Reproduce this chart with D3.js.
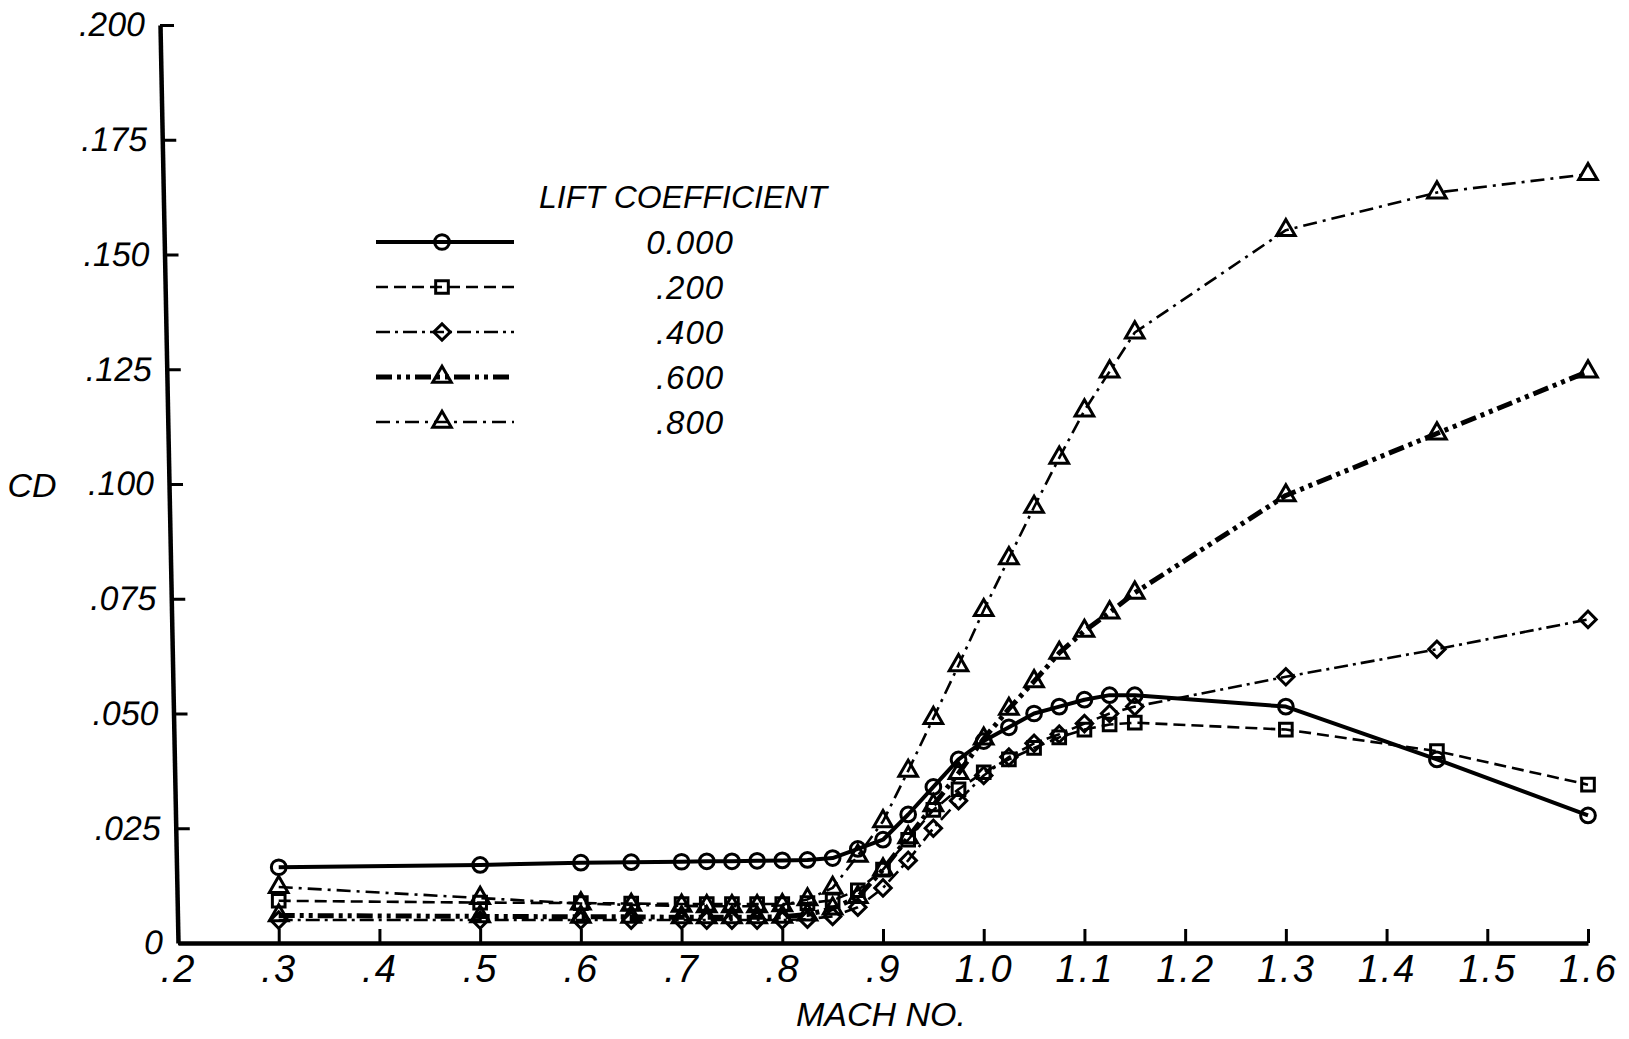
<!DOCTYPE html>
<html>
<head>
<meta charset="utf-8">
<script src="https://cdn.jsdelivr.net/npm/d3@7"></script>
<style>
  body { margin: 0; background: #fff; }
  svg { display: block; background: #fff; }
  text { font-family: "Liberation Sans", Arial, sans-serif; font-style: italic; fill: #000; }
</style>
</head>
<body>
<svg id="chart" width="1629" height="1039"></svg>
<script>
// Mach numbers where drag was computed
const mach = [0.3, 0.5, 0.6, 0.65, 0.7, 0.725, 0.75, 0.775, 0.8, 0.825, 0.85, 0.875, 0.9, 0.925,
              0.95, 0.975, 1.0, 1.025, 1.05, 1.075, 1.1, 1.125, 1.15, 1.3, 1.45, 1.6];

// CD for each lift coefficient
const cd000 = [0.0165, 0.0170, 0.0175, 0.0176, 0.0177, 0.0178, 0.0178, 0.0179, 0.0180, 0.0181, 0.0185, 0.0205, 0.0225,
               0.0280, 0.0340, 0.0400, 0.0440, 0.0470, 0.0500, 0.0515, 0.0530, 0.0540, 0.0540, 0.0515, 0.0400, 0.0278];
const cd200 = [0.0092, 0.0088, 0.0087, 0.0086, 0.0085, 0.0085, 0.0085, 0.0085, 0.0085, 0.0087, 0.0093, 0.0115, 0.0160,
               0.0225, 0.0290, 0.0335, 0.0372, 0.0400, 0.0425, 0.0448, 0.0465, 0.0476, 0.0480, 0.0465, 0.0418, 0.0345];
const cd400 = [0.0050, 0.0050, 0.0050, 0.0050, 0.0050, 0.0050, 0.0050, 0.0050, 0.0050, 0.0052, 0.0058, 0.0078, 0.0120,
               0.0180, 0.0250, 0.0310, 0.0365, 0.0405, 0.0435, 0.0455, 0.0478, 0.0500, 0.0515, 0.0580, 0.0640, 0.0705];
const cd600 = [0.0060, 0.0058, 0.0057, 0.0057, 0.0056, 0.0056, 0.0056, 0.0056, 0.0057, 0.0062, 0.0075, 0.0100, 0.0160,
               0.0230, 0.0300, 0.0370, 0.0445, 0.0510, 0.0570, 0.0632, 0.0680, 0.0720, 0.0763, 0.0975, 0.1110, 0.1245];
const cd800 = [0.0122, 0.0098, 0.0086, 0.0083, 0.0081, 0.0080, 0.0080, 0.0080, 0.0082, 0.0095, 0.0120, 0.0190, 0.0265,
               0.0375, 0.0490, 0.0605, 0.0725, 0.0838, 0.0950, 0.1057, 0.1160, 0.1245, 0.1330, 0.1553, 0.1635, 0.1675];

const liftLabels = ['0.000', '.200', '.400', '.600', '.800'];

const xTicks = [0.2, 0.3, 0.4, 0.5, 0.6, 0.7, 0.8, 0.9, 1.0, 1.1, 1.2, 1.3, 1.4, 1.5, 1.6];
const xTickLabels = ['.2', '.3', '.4', '.5', '.6', '.7', '.8', '.9', '1.0', '1.1', '1.2', '1.3', '1.4', '1.5', '1.6'];
const yTicks = [0, 0.025, 0.05, 0.075, 0.1, 0.125, 0.15, 0.175, 0.2];
const yTickLabels = ['0', '.025', '.050', '.075', '.100', '.125', '.150', '.175', '.200'];

const svg = d3.select('#chart');

const x = d3.scaleLinear().domain([0.2, 1.6]).range([178, 1588]);
const y = d3.scaleLinear().domain([0, 0.2]).range([943, 25]);

// the scanned y axis leans a little: 178 at the bottom, 160 at the top
const lean = 18 / 918;
const leanDeg = Math.atan(lean) * 180 / Math.PI;

// X axis, ticks point inward
const xAxis = svg.append('g')
    .attr('transform', `translate(0,${y(0)})`)
    .call(d3.axisBottom(x)
        .tickValues(xTicks)
        .tickFormat((d, i) => xTickLabels[i])
        .tickSizeInner(-14)
        .tickSizeOuter(0)
        .tickPadding(12));

// Y axis
const yAxis = svg.append('g')
    .attr('transform', `translate(${x(0.2) - lean * y(0)},0) skewX(${leanDeg})`)
    .call(d3.axisLeft(y)
        .tickValues(yTicks)
        .tickFormat((d, i) => yTickLabels[i])
        .tickSizeInner(-14)
        .tickSizeOuter(0)
        .tickPadding(15));

[xAxis, yAxis].forEach(g => {
    g.select('.domain').attr('stroke', '#000').attr('stroke-width', 4.5);
    g.selectAll('.tick line').attr('stroke', '#000').attr('stroke-width', 3);
    g.selectAll('.tick text').attr('fill', '#000')
        .style('font-family', '"Liberation Sans", Arial, sans-serif')
        .style('font-style', 'italic');
});
xAxis.selectAll('.tick text').style('font-size', '38px').style('letter-spacing', '2px');
yAxis.selectAll('.tick text').style('font-size', '34px');

// axis titles
svg.append('text')
    .attr('x', 32).attr('y', y(0.1) + 13)
    .attr('text-anchor', 'middle')
    .style('font-size', '34px')
    .text('CD');

svg.append('text')
    .attr('x', (x(0.2) + x(1.6)) / 2 - 2).attr('y', 1026)
    .attr('text-anchor', 'middle')
    .style('font-size', '34px')
    .text('MACH NO.');

// series styling
const series = [
    { label: liftLabels[0], values: cd000, dash: null,               width: 4,   symbol: 'circle' },
    { label: liftLabels[1], values: cd200, dash: '12,6',             width: 2.6, symbol: 'square' },
    { label: liftLabels[2], values: cd400, dash: '14,5,3,5',         width: 2.6, symbol: 'diamond' },
    { label: liftLabels[3], values: cd600, dash: '16,5,4,5,4,5',     width: 5,   symbol: 'triangle' },
    { label: liftLabels[4], values: cd800, dash: '14,6,3,6',         width: 2.6, symbol: 'triangle' }
];

function markerPath(sym) {
    if (sym === 'circle') return d3.symbol(d3.symbolCircle, 170)();
    if (sym === 'square') return d3.symbol(d3.symbolSquare, 160)();
    if (sym === 'diamond') return d3.symbol(d3.symbolSquare, 135)();
    return d3.symbol(d3.symbolTriangle, 150)();
}

const line = d3.line()
    .x(d => x(d[0]))
    .y(d => y(d[1]));

const plot = svg.append('g');

series.forEach(s => {
    const pts = mach.map((m, i) => [m, s.values[i]]);
    plot.append('path')
        .datum(pts)
        .attr('fill', 'none')
        .attr('stroke', '#000')
        .attr('stroke-width', s.width)
        .attr('stroke-dasharray', s.dash)
        .attr('stroke-linejoin', 'round')
        .attr('d', line);

    plot.selectAll(null)
        .data(pts)
        .enter().append('path')
        .attr('d', markerPath(s.symbol))
        .attr('transform', d => `translate(${x(d[0])},${y(d[1])})` + (s.symbol === 'diamond' ? ' rotate(45)' : ''))
        .attr('fill', 'none')
        .attr('stroke', '#000')
        .attr('stroke-width', 3);
});

// legend
const legend = svg.append('g');
legend.append('text')
    .attr('x', 683).attr('y', 208)
    .attr('text-anchor', 'middle')
    .style('font-size', '32px')
    .text('LIFT COEFFICIENT');

series.forEach((s, i) => {
    const ly = 242 + i * 45;
    legend.append('line')
        .attr('x1', 376).attr('x2', 514)
        .attr('y1', ly).attr('y2', ly)
        .attr('stroke', '#000')
        .attr('stroke-width', s.width)
        .attr('stroke-dasharray', s.dash);
    legend.append('path')
        .attr('d', markerPath(s.symbol))
        .attr('transform', `translate(442,${ly})` + (s.symbol === 'diamond' ? ' rotate(45)' : ''))
        .attr('fill', 'none')
        .attr('stroke', '#000')
        .attr('stroke-width', 3);
    legend.append('text')
        .attr('x', 690).attr('y', ly + 12)
        .attr('text-anchor', 'middle')
        .style('font-size', '33px')
        .style('letter-spacing', '1px')
        .text(s.label);
});
</script>
</body>
</html>
